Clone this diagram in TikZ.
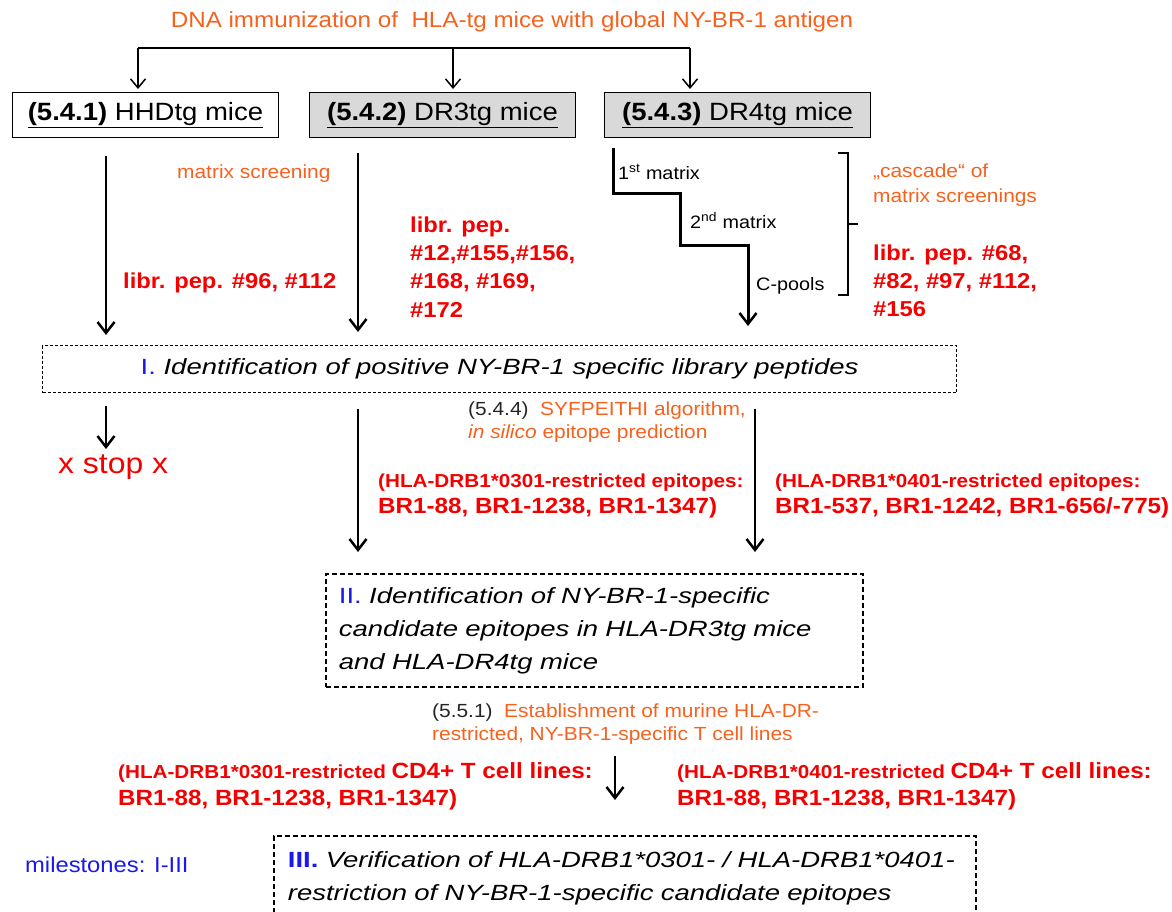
\documentclass[tikz,border=0pt]{standalone}
\usepackage{fontspec}
\setmainfont{Liberation Sans}[FakeStretch=1.1]
\newfontfamily\stagefont{Liberation Sans}[FakeStretch=1.25]
\usetikzlibrary{arrows.meta}
\definecolor{sketchorange}{RGB}{246,98,30}
\definecolor{sketchred}{RGB}{245,0,0}
\definecolor{sketchblue}{RGB}{25,25,235}
\definecolor{boxgrey}{RGB}{217,217,217}
\newcommand{\stageNo}[1]{\textup{\textcolor{sketchblue}{#1}}}

\tikzset{
  txt/.style={anchor=base west, inner sep=0pt},
  headline/.style={anchor=base, inner sep=0pt, text=sketchorange, font=\fontsize{22}{26}\selectfont},
  mousebox/.style={draw, line width=1pt, minimum width=266pt, minimum height=45pt,
    inner sep=0pt, anchor=north west, font=\fontsize{25}{30}\selectfont},
  stagebox/.style={draw, line width=1.8pt, dash pattern=on 5pt off 3pt, inner sep=0pt,
    anchor=north west, font=\stagefont\itshape\fontsize{22}{33}\selectfont},
  note/.style={txt, text=sketchorange, font=\fontsize{19}{23}\selectfont},
  pep/.style={txt, text=sketchred, font=\bfseries\fontsize{21.6}{26}\selectfont},
  epismall/.style={txt, text=sketchred, font=\bfseries\fontsize{18.8}{23}\selectfont},
  epilarge/.style={txt, text=sketchred, font=\bfseries\fontsize{22}{26}\selectfont},
  stair/.style={txt, font=\fontsize{18}{22}\selectfont},
  fork/.style={line width=1.5pt, -{Straight Barb[length=9pt,width=15pt,line width=1.5pt]}},
  flow/.style={line width=2.5pt, -{Straight Barb[length=11pt,width=17pt,line width=2.5pt]}},
}

\begin{document}
\begin{tikzpicture}[x=1pt,y=-1pt]
\useasboundingbox (0,0) rectangle (1172,911);
\clip (0,0) rectangle (1172,911);

% immunization and the three mouse strains
\node[headline] (dna) at (512,27) {DNA immunization of\ \ HLA-tg mice with global NY-BR-1 antigen};
\node[mousebox] (hhd) at (12,92) {\underline{\textbf{(5.4.1)} HHDtg mice}};
\node[mousebox, fill=boxgrey] (dr3) at (309,92) {\underline{\textbf{(5.4.2)} DR3tg mice}};
\node[mousebox, fill=boxgrey] (dr4) at (604,92) {\underline{\textbf{(5.4.3)} DR4tg mice}};

\coordinate (forkL) at (138,48);
\coordinate (forkM) at (453,48);
\coordinate (forkR) at (690,48);
\draw[line width=1.5pt] (forkL) -- (forkR);
\draw[fork, shorten >=3pt] (forkL) -- (forkL |- hhd.north);
\draw[fork, shorten >=3pt] (forkM) -- (forkM |- dr3.north);
\draw[fork, shorten >=3pt] (forkR) -- (forkR |- dr4.north);

% screening
\node[note] (screen) at (177,178) {matrix screening};
\node[pep] (pepA) at (123,288) {libr. pep. \#96, \#112};
\node[pep] (pepB1) at (410,232) {libr. pep.};
\node[pep] (pepB2) at (410,260) {\#12,\#155,\#156,};
\node[pep] (pepB3) at (410,288) {\#168, \#169,};
\node[pep] (pepB4) at (410,317) {\#172};

\node[stair] (mat1) at (618,179) {1\textsuperscript{st} matrix};
\node[stair] (mat2) at (690,228) {2\textsuperscript{nd} matrix};
\node[stair] (cpool) at (756,290) {C-pools};
\draw[line width=1.5pt] (838,153) -- (848,153) -- (848,295) -- (838,295);
\draw[line width=1.5pt] (848,224) -- (858,224);
\node[note] (casc1) at (873,177) {„cascade“ of};
\node[note] (casc2) at (873,202) {matrix screenings};
\node[pep] (pepC1) at (873,260) {libr. pep. \#68,};
\node[pep] (pepC2) at (873,288) {\#82, \#97, \#112,};
\node[pep] (pepC3) at (873,316) {\#156};

% milestone I
\node[stagebox, line width=1.2pt, dash pattern=on 3pt off 2pt, minimum width=914pt,
  minimum height=47pt] (stageI) at (42,345)
  {\stageNo{I.} Identification of positive NY-BR-1 specific library peptides};

\coordinate (colA) at (106,0);
\coordinate (colB) at (358,0);
\coordinate (colC) at (755,0);
\coordinate (colD) at (748,0);
\coordinate (stair1) at (613,148);
\coordinate (stair2) at (680,193);
\coordinate (stair3) at (748,245);
\draw[flow, shorten <=18pt, shorten >=10pt] (colA |- hhd.south) -- (colA |- stageI.north);
\draw[flow, shorten <=15pt, shorten >=13pt] (colB |- dr3.south) -- (colB |- stageI.north);
\draw[flow, line width=3pt, shorten >=19pt] (stair1) |- (stair2) |- (stair3) -- (colD |- stageI.north);

% milestone II
\node[txt, text=sketchred, font=\fontsize{29}{34}\selectfont] (stop) at (58,473) {x stop x};
\draw[flow, shorten <=13pt, shorten >=5pt] (colA |- stageI.south) -- (colA |- stop.north);

\node[note] (syf1) at (468,415) {\textcolor{black!85}{(5.4.4)}\ \ SYFPEITHI algorithm,};
\node[note] (syf2) at (468,438) {\textit{in silico} epitope prediction};
\node[epismall] (epiL1) at (378,487) {(HLA-DRB1*0301-restricted epitopes:};
\node[epilarge] (epiL2) at (378,513) {BR1-88, BR1-1238, BR1-1347)};
\node[epismall] (epiR1) at (775,487) {(HLA-DRB1*0401-restricted epitopes:};
\node[epilarge] (epiR2) at (775,513) {BR1-537, BR1-1242, BR1-656/-775)};

\node[stagebox, minimum width=537pt, minimum height=113pt, align=left, text width=511pt,
  inner xsep=13pt] (stageII) at (325,573)
  {\mbox{\stageNo{II.} Identification of NY-BR-1-specific}\\\mbox{candidate epitopes in HLA-DR3tg mice}\\\mbox{and HLA-DR4tg mice}};
\draw[flow, shorten <=16pt, shorten >=21pt] (colB |- stageI.south) -- (colB |- stageII.north);
\draw[flow, shorten <=16pt, shorten >=21pt] (colC |- stageI.south) -- (colC |- stageII.north);

% milestone III
\node[note] (est1) at (432,717) {\textcolor{black!85}{(5.5.1)}\ \ Establishment of murine HLA-DR-};
\node[note] (est2) at (432,740) {restricted, NY-BR-1-specific T cell lines};
\node[epismall] (cdL1) at (118,778) {(HLA-DRB1*0301-restricted \fontsize{22}{26}\selectfont CD4+ T cell lines:};
\node[epilarge] (cdL2) at (118,805) {BR1-88, BR1-1238, BR1-1347)};
\node[epismall] (cdR1) at (677,778) {(HLA-DRB1*0401-restricted \fontsize{22}{26}\selectfont CD4+ T cell lines:};
\node[epilarge] (cdR2) at (677,805) {BR1-88, BR1-1238, BR1-1347)};
\node[txt, text=sketchblue, font=\fontsize{21.6}{26}\selectfont] (miles) at (25,872) {milestones: I-III};

\node[stagebox, minimum width=702pt, minimum height=84pt, align=left, text width=674pt,
  inner xsep=14pt] (stageIII) at (273,835)
  {\mbox{\stageNo{\bfseries III.} Verification of HLA-DRB1*0301- / HLA-DRB1*0401-}\\\mbox{restriction of NY-BR-1-specific candidate epitopes}};
\coordinate (colE) at (615,0);
\draw[flow, shorten <=12pt] (colE |- est2.south) -- ([yshift=35pt]colE |- stageIII.north);
\end{tikzpicture}
\end{document}
